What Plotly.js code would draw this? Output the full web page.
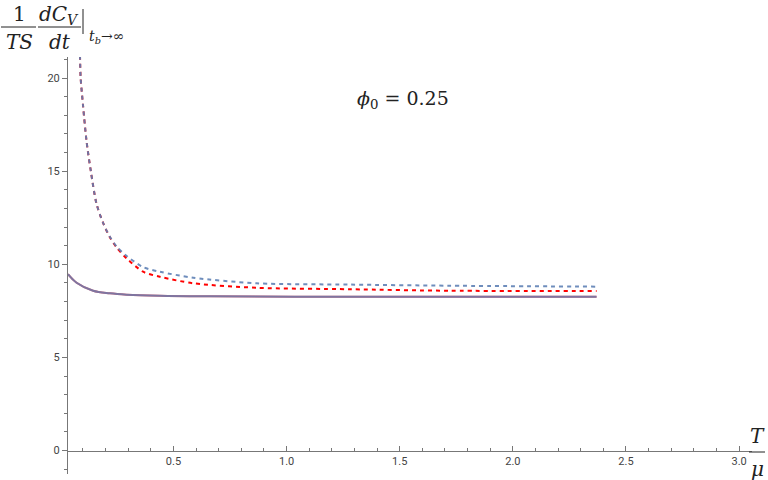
<!DOCTYPE html>
<html>
<head>
<meta charset="utf-8">
<script src="https://cdn.plot.ly/plotly-3.0.1.min.js"></script>
<style>
  html, body { margin: 0; padding: 0; background: #fff; }
  #graph { width: 768px; height: 480px; }
</style>
</head>
<body>
<div id="graph"></div>
<script>
// Values
const tDash = [0.087, 0.090, 0.101, 0.116, 0.135, 0.160, 0.190, 0.219, 0.249, 0.293, 0.366, 0.44, 0.588, 0.868, 1.28, 1.72, 2.37];
const vDashBlue = [21.2, 20.0, 18.46, 16.6, 15.0, 13.25, 12.2, 11.48, 10.95, 10.45, 9.85, 9.6, 9.28, 8.98, 8.91, 8.85, 8.80];
const vDashRed = [21.2, 20.0, 18.46, 16.6, 15.0, 13.25, 12.2, 11.45, 10.9, 10.32, 9.6, 9.33, 8.98, 8.74, 8.66, 8.58, 8.57];

const tSolid = [0.034, 0.072, 0.145, 0.219, 0.293, 0.44, 0.661, 1.2, 1.8, 2.37];
const vSolidRed = [9.47, 9.01, 8.58, 8.44, 8.37, 8.31, 8.28, 8.26, 8.26, 8.26];
const vSolidBlue = [9.47, 9.01, 8.58, 8.44, 8.37, 8.31, 8.28, 8.26, 8.26, 8.26];

const xTickVals = [0.5, 1.0, 1.5, 2.0, 2.5, 3.0];
const xTickText = ["0.5", "1.0", "1.5", "2.0", "2.5", "3.0"];
const yTickVals = [0, 5, 10, 15, 20];

const xRange = [0.034, 3.057];
const yRange = [-1.26, 21.13];

// plot area in pixels
const L = 68, R = 16, T = 57, B = 6;
const W = 768 - L - R, H = 480 - T - B;
function px(x) { return (x - L) / W; }
function py(y) { return (480 - B - y) / H; }

const blue = "#5E81B5";
const red = "#FF0000";
const serif = "DejaVu Serif";
const sans = "Roboto";

const data = [
    { x: tSolid, y: vSolidRed, mode: "lines", line: { color: "#E05060", width: 2, shape: "spline" }, hoverinfo: "skip" },
    { x: tSolid, y: vSolidBlue, mode: "lines", opacity: 0.75, line: { color: blue, width: 2, shape: "spline" }, hoverinfo: "skip" },
    { x: tDash, y: vDashRed, mode: "lines", line: { color: red, width: 2, dash: "4px,4px", shape: "spline", smoothing: 0.8 }, hoverinfo: "skip" },
    { x: tDash, y: vDashBlue, mode: "lines", opacity: 0.9, line: { color: blue, width: 2, dash: "4px,4px", shape: "spline", smoothing: 0.8 }, hoverinfo: "skip" }
];

function note(text, x, y, size, anchor) {
    return {
        text: text, xref: "paper", yref: "paper", x: px(x), y: py(y),
        xanchor: anchor || "center", yanchor: "middle", showarrow: false,
        font: { family: serif, size: size, color: "#222" }
    };
}

const layout = {
    width: 768, height: 480,
    margin: { l: L, r: R, t: T, b: B },
    paper_bgcolor: "#fff", plot_bgcolor: "#fff",
    showlegend: false,
    font: { family: sans },
    xaxis: {
        range: xRange, anchor: "free", position: (0 - yRange[0]) / (yRange[1] - yRange[0]),
        showgrid: false, zeroline: false, showline: true, linecolor: "#777", linewidth: 1,
        ticks: "inside", ticklen: 5, tickcolor: "#777",
        tickvals: xTickVals, ticktext: xTickText,
        minor: { dtick: 0.1, tick0: 0, ticks: "inside", ticklen: 3, tickcolor: "#777" },
        tickfont: { family: sans, size: 11, color: "#444" }
    },
    yaxis: {
        range: yRange, showgrid: false, zeroline: false, showline: true, linecolor: "#777", linewidth: 1,
        ticks: "outside", ticklen: 5, tickcolor: "#777", tickvals: yTickVals,
        minor: { dtick: 1, tick0: 0, ticks: "outside", ticklen: 3, tickcolor: "#777" },
        tickfont: { family: sans, size: 11, color: "#444" }
    },
    shapes: [
        { type: "line", xref: "paper", yref: "paper", x0: px(1), x1: px(36), y0: py(27), y1: py(27), line: { color: "#222", width: 1 } },
        { type: "line", xref: "paper", yref: "paper", x0: px(38), x1: px(81), y0: py(27), y1: py(27), line: { color: "#222", width: 1 } },
        { type: "line", xref: "paper", yref: "paper", x0: px(83), x1: px(83), y0: py(9), y1: py(34), line: { color: "#222", width: 1 } },
        { type: "line", xref: "paper", yref: "paper", x0: px(749), x1: px(765), y0: py(452), y1: py(452), line: { color: "#222", width: 1 } }
    ],
    annotations: [
        note("1", 19, 14, 20),
        note("<i>TS</i>", 19, 42, 20),
        note("<i>dC</i><sub><i>V</i></sub>", 59, 15, 20),
        note("<i>dt</i>", 60, 42, 20),
        note("<i>t</i><sub><i>b</i></sub>→∞", 87, 37, 14, "left"),
        note("<i>T</i>", 757, 436, 20),
        note("<i>μ</i>", 757, 469, 20),
        note("<i>ϕ</i><sub>0</sub> = 0.25", 355, 99, 19, "left")
    ]
};

Plotly.newPlot("graph", data, layout, { displayModeBar: false, staticPlot: true });
</script>
</body>
</html>
